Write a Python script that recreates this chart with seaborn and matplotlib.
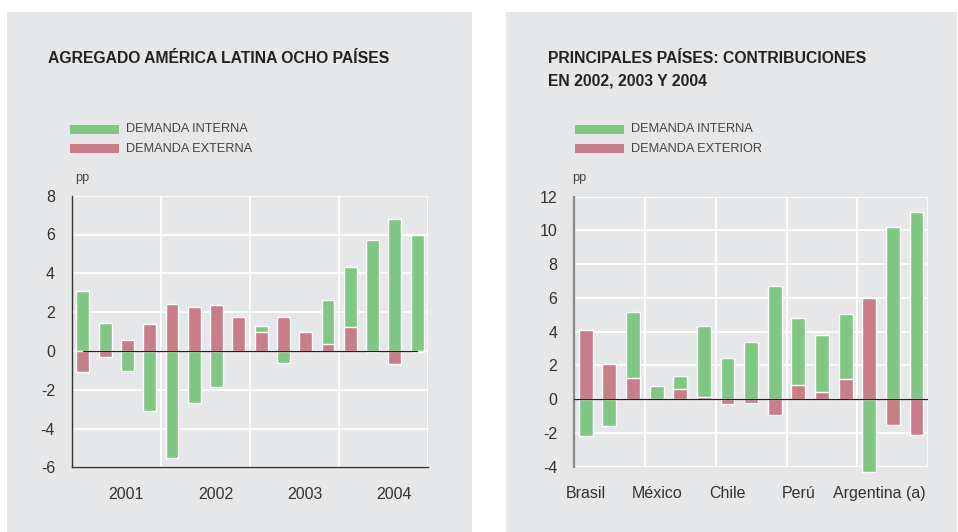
import matplotlib
matplotlib.use("Agg")
import matplotlib.pyplot as plt
import matplotlib.patches as mpatches
import matplotlib.transforms as mtrans
import numpy as np
import pandas as pd
import seaborn as sns

# ---------------- data ----------------
quarters = [f"{y}-T{q}" for y in (2001, 2002, 2003, 2004) for q in (1, 2, 3, 4)]
years = ["2001", "2002", "2003", "2004"]
agg_interna = [3.10, 1.46, -1.04, -3.10, -5.51, -2.69, -1.87, 0.0,
               1.30, -0.63, 0.0, 2.64, 4.33, 5.72, 6.80, 5.98]
agg_externa = [-1.10, -0.33, 0.58, 1.40, 2.43, 2.28, 2.38, 1.76,
               0.99, 1.76, 0.99, 0.38, 1.22, -0.07, -0.68, -0.07]

countries = ["Brasil", "México", "Chile", "Perú", "Argentina (a)"]
country_years = ["2002", "2003", "2004"]
pais_interna = [-2.17, -1.58, 5.17, 0.79, 1.38, 4.34, 2.45, 3.39, 6.71,
                4.82, 3.81, 5.05, -4.30, 10.20, 11.09]
pais_exterior = [4.10, 2.09, 1.26, 0.0, 0.61, 0.14, -0.28, -0.22, -0.93,
                 0.85, 0.43, 1.20, 6.00, -1.52, -2.11]

GREEN = "#80c784"
RED = "#c97d88"
PANEL = "#e6e7e8"
TXT = "#333333"

sns.set_theme(style="white")
plt.rcParams["font.family"] = ["Liberation Sans", "DejaVu Sans"]

W, H = 958, 532
fig = plt.figure(figsize=(W / 100, H / 100), dpi=100)
fig.patch.set_facecolor("white")

def fx(px):
    return px / W

def fy(py):
    return 1 - py / H

# gray panels
for x0, x1 in [(7, 472), (506, 957)]:
    fig.patches.append(mpatches.Rectangle((fx(x0), 0), fx(x1) - fx(x0), fy(12),
                                          transform=fig.transFigure,
                                          facecolor=PANEL, edgecolor="none", zorder=-5))

def style_axes(ax, yticks, ylim, n, group, left_color, left_lw, bottom_spine):
    ax.set_facecolor("none")
    ax.set_xlim(-0.5, n - 0.5)
    ax.set_ylim(*ylim)
    ax.set_yticks(yticks)
    ax.set_yticklabels([str(t) for t in yticks], fontsize=11.5, color=TXT)
    ax.tick_params(axis="y", length=0, pad=12)
    ax.tick_params(axis="x", length=0)
    for t in yticks:
        ax.axhline(t, color="white", lw=1.3, zorder=1)
    for g in range(group, n + 1, group):
        ax.axvline(g - 0.5, color="white", lw=1.3, zorder=1)
    for s in ["top", "right"]:
        ax.spines[s].set_visible(False)
    ax.spines["left"].set_color(left_color)
    ax.spines["left"].set_linewidth(left_lw)
    ax.spines["left"].set_zorder(5)
    if bottom_spine:
        ax.spines["bottom"].set_color("#333333")
        ax.spines["bottom"].set_linewidth(1.0)
        ax.spines["bottom"].set_zorder(5)
    else:
        ax.spines["bottom"].set_visible(False)
    ax.set_xlabel("")
    ax.set_ylabel("")

# ---------------- left chart ----------------
axL = fig.add_axes([fx(71.7), fy(467.3), fx(428.3) - fx(71.7), fy(195.7) - fy(467.3)])
dfL = pd.DataFrame({"q": quarters, "interna": agg_interna, "externa": agg_externa})
sns.barplot(data=dfL, x="q", y="interna", color=GREEN, saturation=1, width=0.58,
            ax=axL, zorder=3)
sns.barplot(data=dfL, x="q", y="externa", color=RED, saturation=1, width=0.58,
            ax=axL, zorder=4)
style_axes(axL, [-6, -4, -2, 0, 2, 4, 6, 8], (-6, 8), len(quarters), 4,
           "#333333", 1.0, True)
axL.plot([0, len(quarters) - 1], [0, 0], color="#222222", lw=0.9, zorder=6)
axL.set_xticks([4 * k + 1.95 for k in range(len(years))])
axL.set_xticklabels(years, fontsize=11.5, color=TXT)
axL.tick_params(axis="x", pad=14)

# ---------------- right chart ----------------
axR = fig.add_axes([fx(574), fy(466.7), fx(928.3) - fx(574), fy(196.7) - fy(466.7)])
labelsR = [f"{c} {y}" for c in countries for y in country_years]
dfR = pd.DataFrame({"p": labelsR, "interna": pais_interna, "exterior": pais_exterior})
sns.barplot(data=dfR, x="p", y="interna", color=GREEN, saturation=1, width=0.59,
            ax=axR, zorder=3)
sns.barplot(data=dfR, x="p", y="exterior", color=RED, saturation=1, width=0.59,
            ax=axR, zorder=4)
for p in axR.patches:
    p.set_clip_on(False)
style_axes(axR, [-4, -2, 0, 2, 4, 6, 8, 10, 12], (-4, 12), len(labelsR), 3,
           "#8a8a8a", 1.6, False)
axR.plot([-0.5, len(labelsR) - 0.5], [0, 0], color="#222222", lw=0.9, zorder=6)
axR.set_xticks([3 * k for k in range(len(countries))])
axR.set_xticklabels(countries, fontsize=11.5, color=TXT)
axR.tick_params(axis="x", pad=14)
lab = axR.get_xticklabels()[-1]
lab.set_transform(lab.get_transform() + mtrans.ScaledTranslation(0.10, 0, fig.dpi_scale_trans))

# ---------------- titles, legends, units ----------------
fig.text(fx(48), fy(63.3), "AGREGADO AMÉRICA LATINA OCHO PAÍSES", fontsize=11.3,
         fontweight="bold", color="#222222", ha="left", va="baseline")
fig.text(fx(548), fy(63.3), "PRINCIPALES PAÍSES: CONTRIBUCIONES", fontsize=11.3,
         fontweight="bold", color="#222222", ha="left", va="baseline")
fig.text(fx(548), fy(85), "EN 2002, 2003 Y 2004", fontsize=11.3,
         fontweight="bold", color="#222222", ha="left", va="baseline")

def legend(x0, entries):
    for (label, col), yc in zip(entries, (129.5, 148.5)):
        fig.patches.append(mpatches.Rectangle((fx(x0), fy(yc + 4.5)), fx(49), 9 / H,
                                              transform=fig.transFigure,
                                              facecolor=col, edgecolor="none", zorder=2))
        fig.text(fx(x0 + 56), fy(yc), label, fontsize=9.2, color="#444444",
                 ha="left", va="center")

legend(70, [("DEMANDA INTERNA", GREEN), ("DEMANDA EXTERNA", RED)])
legend(575, [("DEMANDA INTERNA", GREEN), ("DEMANDA EXTERIOR", RED)])

fig.text(fx(75), fy(178), "pp", fontsize=9.2, color="#444444", ha="left", va="center")
fig.text(fx(572), fy(178), "pp", fontsize=9.2, color="#444444", ha="left", va="center")

fig.savefig("out.png", dpi=100, facecolor="white")
